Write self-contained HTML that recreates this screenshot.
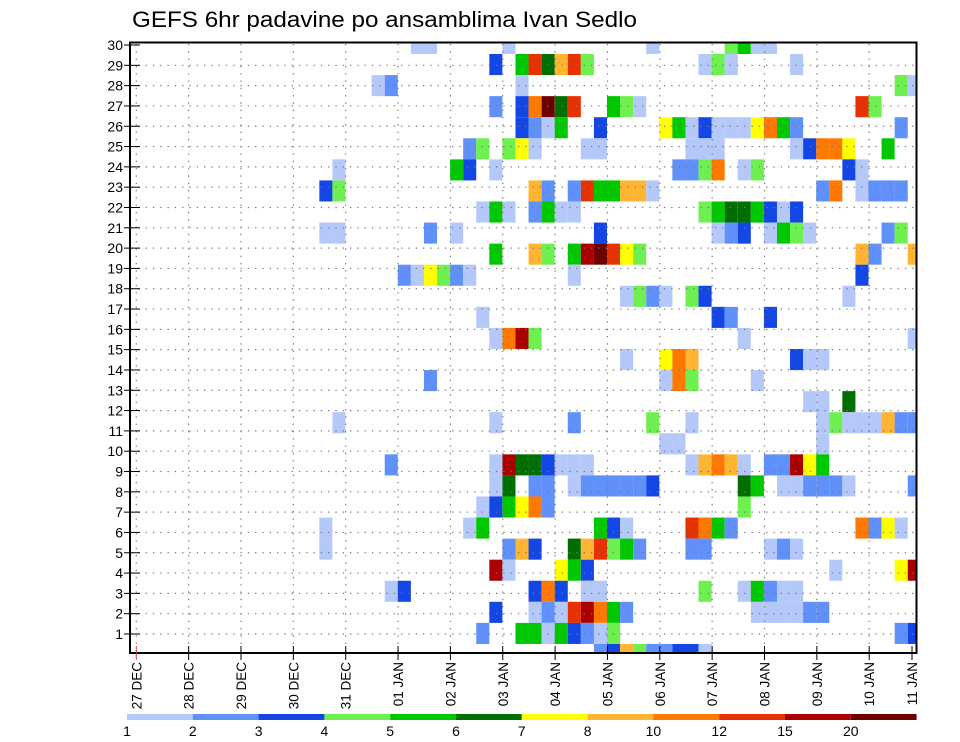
<!DOCTYPE html>
<html><head><meta charset="utf-8">
<style>html,body{margin:0;padding:0;background:#fff;}svg{display:block;}</style>
</head><body>
<svg id="s" width="960" height="742" xmlns="http://www.w3.org/2000/svg" font-family="Liberation Sans, sans-serif">
<rect width="960" height="742" fill="#fff"/>
<text x="132" y="27" font-size="22" textLength="505" lengthAdjust="spacingAndGlyphs">GEFS 6hr padavine po ansamblima Ivan Sedlo</text>
<g id="cells"></g>
<g id="grid"></g>
<rect x="130" y="42.5" width="786.5" height="610.5" fill="none" stroke="#000" stroke-width="2"/>
<g id="ax"></g>
</svg>
<script>
var C=[null,"#b4c8fa","#6090fa","#1446e6","#6ef050","#00c800","#006e00","#ffff00","#ffb432","#ff7800","#e63200","#aa0000","#6e0000"];
var D={
0:"1:5,6,12,23;4:29;5:30;1:31,32",
1:"3:11;5:13;10:14;6:15;8:16;10:17;4:18;1:27;4:28;1:29;1:34",
2:"1:2;2:3;1:13;4:42;1:43",
3:"2:11;3:13;9:14;12:15;6:16;10:17;5:20;4:21;1:22;10:39;4:40",
4:"3:13;2:14;1:15;5:16;3:19;7:24;5:25;1:26;3:27;1:28,29,30;7:31;9:32;5:33;2:34;2:42",
5:"2:9;4:10;4:12;7:13;1:14;1:18,19;1:26,27;1:28;1:34;3:35;9:36,37;7:38;5:41",
6:"1:-1;5:8;3:9;1:11;2:25,26;4:27;9:28;1:30;4:31;3:38;1:39",
7:"3:-2;4:-1;8:14;2:15;2:17;10:18;5:19,20;8:21,22;1:23;2:36;9:37;1:39;2:40,41,42",
8:"1:10;5:11;1:12;2:14;5:15;1:16,17;4:27;5:28;6:29,30;5:31;3:32;1:33;3:34",
9:"1:-2,-1;2:6;1:8;3:19;1:28;2:29;3:30;1:32;5:33;4:34;1:35;2:41;4:42",
10:"5:11;8:14;4:15;5:17;11:18;12:19;10:20;7:21;4:22;8:39;2:40;8:43",
11:"2:4;1:5;7:6;4:7;2:8;1:9;1:17;3:39",
12:"1:21;4:22;2:23;1:24;4:26;3:27;1:38",
13:"1:10;3:28;2:29;3:32",
14:"1:11;9:12;11:13;4:14;1:30;1:43",
15:"1:21;7:24;9:25;8:26;3:34;1:35,36",
16:"2:6;1:24;9:25;4:26;1:31",
17:"1:35,36;6:38",
18:"1:-1;1:11;2:17;4:23;1:26;1:36;4:37;1:38,39,40;8:41;2:42,43",
19:"1:24,25;1:36",
20:"2:3;1:11;11:12;6:13,14;3:15;1:16,17,18;1:26;8:27;9:28;8:29;1:30;2:32,33;11:34;7:35;5:36",
21:"1:11;6:12;2:14,15;1:17;2:18,19,20,21,22;3:23;6:30;5:31;1:33,34;2:35,36,37;1:38;2:43",
22:"1:10;3:11;5:12;7:13;9:14;2:15;4:30",
23:"1:-2;1:9;5:10;5:19;3:20;1:21;10:26;9:27;5:28;2:29;9:39;2:40;7:41;1:42",
24:"1:-2;2:12;8:13;3:14;6:17;8:18;10:19;4:20;5:21;2:22;2:26,27;1:32;2:33;1:34",
25:"11:11;1:12;7:16;5:17;3:18;1:37;7:42;11:43",
26:"1:3;3:4;3:14;9:15;3:16;1:18,19;4:27;1:30;5:31;2:32;1:33,34",
27:"3:11;1:14;2:15;1:16;10:17;11:18;9:19;5:20;2:21;1:31,32,33,34;2:35,36",
28:"2:10;5:13,14;1:15;5:16;3:17;2:18;1:19;4:20;2:42;3:43",
29:"2:19;3:20;8:21;4:22;2:23,24;3:25,26;1:27"};
var NS="http://www.w3.org/2000/svg";
function el(p,n,a,t){var e=document.createElementNS(NS,n);for(var k in a)e.setAttribute(k,a[k]);if(t!==undefined)e.textContent=t;p.appendChild(e);return e;}
var cg=document.getElementById("cells");
for(var k in D){var y0=54+21.07*(k-1),y1=y0+21.07;y0=Math.max(y0,43);y1=Math.min(y1,653);
D[k].split(";").forEach(function(g){var p=g.split(":"),c=C[+p[0]];p[1].split(",").forEach(function(js){var j=+js;var x0=345.5+13.075*j,x1=x0+13.075;x1=Math.min(x1,916);
el(cg,"rect",{x:x0.toFixed(2),y:y0.toFixed(2),width:(x1-x0).toFixed(2),height:(y1-y0).toFixed(2),fill:c});});});}
var gg=document.getElementById("grid"),ax=document.getElementById("ax");
function ry(r){return 634-20.31*(r-1);}
for(var r=1;r<=30;r++){var y=ry(r);
 if(r<30)el(gg,"line",{x1:131,x2:916,y1:y,y2:y,stroke:"#777","stroke-width":1.2,"stroke-dasharray":"1.3 6"});
 el(ax,"line",{x1:124,x2:140,y1:y,y2:y,stroke:"#000","stroke-width":1});
 el(ax,"text",{x:123,y:y+5,"font-size":14,"text-anchor":"end"},String(r));}
var labs=["27 DEC","28 DEC","29 DEC","30 DEC","31 DEC","01 JAN","02 JAN","03 JAN","04 JAN","05 JAN","06 JAN","07 JAN","08 JAN","09 JAN","10 JAN","11 JAN"];
for(var d=0;d<16;d++){var x=136.3+52.35*d;if(d==15)x=912;
 if(d<15)el(gg,"line",{x1:x,x2:x,y1:44,y2:652,stroke:"#777","stroke-width":1.2,"stroke-dasharray":"1.3 6"});
 el(ax,"line",{x1:x,x2:x,y1:646,y2:660,stroke:d==0?"#c44":"#000","stroke-width":1});
 var t=el(ax,"text",{transform:"translate("+(x+5)+",662) rotate(-90)","font-size":13.5,"text-anchor":"end"},labs[d]);}
var lc=C.slice(1),ll=["1","2","3","4","5","6","7","8","10","12","15","20"];
for(var i=0;i<12;i++){var x=127+65.8*i;el(ax,"rect",{x:x,y:714,width:65.8,height:6,fill:lc[i]});
 el(ax,"text",{x:x,y:736,"font-size":14,"text-anchor":"middle"},ll[i]);}
</script>
</body></html>
